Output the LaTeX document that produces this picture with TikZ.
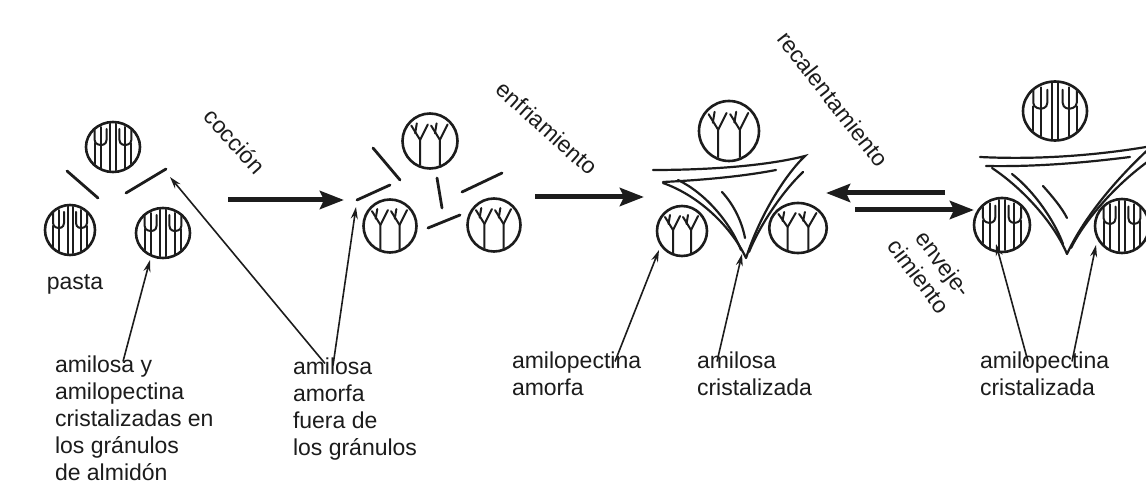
\documentclass[tikz,border=0pt]{standalone}
\usepackage{fontspec}
\setmainfont{Liberation Sans}
\usetikzlibrary{arrows.meta}
\definecolor{ink}{HTML}{1C1C1C}

\tikzset{
  every node/.style={inner sep=0pt, outer sep=0pt, text=ink},
  lbl/.style={font=\fontsize{23}{27}\selectfont, align=left, anchor=north west},
  rlbl/.style={font=\fontsize{23}{27}\selectfont},
  rim/.style={draw=ink, line width=2.6pt},
  fine/.style={draw=ink, line width=2pt, line cap=round},
  film/.style={draw=ink, line width=2.2pt, line cap=round},
  frag/.style={draw=ink, line width=2.8pt, line cap=round},
  lead/.style={draw=ink, line width=1.6pt, -{Stealth[length=12pt,width=7pt]}},
  big/.style={draw=ink, line width=5pt, -{Stealth[length=24pt,width=18pt,inset=4pt]}},
  % granule with crystalline (parallel) chains
  crystgran/.pic={
    \draw[rim] (0,0) circle[radius=25];
    \begin{scope}
      \clip (0,0) circle[radius=24];
      \draw[fine] (-2.5,-30) -- (-2.5,30) (2.5,-30) -- (2.5,30)
                  (-11,-20) -- (-11,30) (11,-20) -- (11,30)
                  (-17,-4) -- (-17,30) (17,-4) -- (17,30);
      \draw[fine] (-17,-18) -- (-17,-7) .. controls (-17,-2) and (-11,-2) .. (-11,-2)
                  .. controls (-11,-2) and (-6,-2) .. (-6,-7) -- (-6,-18);
      \draw[fine] (6,-18) -- (6,-7) .. controls (6,-2) and (11,-2) .. (11,-2)
                  .. controls (11,-2) and (17,-2) .. (17,-7) -- (17,-18);
    \end{scope}
  },
  % granule with branched (amorphous) chains
  treegran/.pic={
    \draw[rim] (0,0) circle[radius=25];
    \begin{scope}
      \clip (0,0) circle[radius=24];
      \foreach \c in {-9,9}{
        \draw[fine] (\c,30) -- (\c,-1) -- (\c-8,-14);
        \draw[fine] (\c,-1) -- (\c+7,-15);
        \draw[fine] (\c-4.5,-7) -- (\c-3,-16);
      }
    \end{scope}
  }
}

\begin{document}
\begin{tikzpicture}[x=1pt,y=-1pt]
\fill[white] (0,0) rectangle (1146,486);
\useasboundingbox (0,0) rectangle (1146,486);

% ---------- raw pasta: intact granules ----------
\pic[xscale=1.08] (g1a) at (113,147) {crystgran};
\pic (g1b) at (70,230) {crystgran};
\pic[xscale=1.08] (g1c) at (163,233) {crystgran};
\draw[frag] (67,171) -- (98,198);
\draw[frag] (126,193) -- (166,169);
\node[rlbl] (pasta) at (75,284) {pasta};

% ---------- cooked: swollen granules, amylose leached ----------
\pic[scale=1.1] (g2a) at (430,141) {treegran};
\pic[scale=1.06] (g2b) at (390,226) {treegran};
\pic[scale=1.06] (g2c) at (494,225) {treegran};
\draw[frag] (373,148) -- (400,180);
\draw[frag] (357,200) -- (390,185);
\draw[frag] (437,178) -- (442,208);
\draw[frag] (428,228) -- (460,215);
\draw[frag] (462,192) -- (502,173);

% ---------- cooled: amylose network crystallised ----------
\pic[scale=1.2] (g3a) at (729,131) {treegran};
\pic (g3b) at (682,231) {treegran};
\pic[xscale=1.15] (g3c) at (798,228) {treegran};
\draw[film] (653,170) .. controls (715,170) and (770,165) .. (805,156)
            .. controls (785,175) and (760,215) .. (746,258);
\draw[film] (663,182) .. controls (705,180) and (745,176) .. (776,170);
\draw[film] (663,183) .. controls (700,196) and (732,228) .. (746,258);
\draw[film] (678,180) .. controls (705,193) and (730,222) .. (741,250);
\draw[film] (722,192) .. controls (734,205) and (742,222) .. (745,238);
\draw[film] (803,172) .. controls (782,192) and (760,225) .. (749,252);

% ---------- aged: amylopectin recrystallised ----------
\pic[xscale=1.28,yscale=1.18] (g4a) at (1055,111) {crystgran};
\pic[xscale=1.12,yscale=1.08] (g4b) at (1002,225) {crystgran};
\pic[xscale=1.08,yscale=1.08] (g4c) at (1122,226) {crystgran};
\draw[film] (980,157) .. controls (1040,160) and (1100,155) .. (1152,146)
            .. controls (1120,175) and (1085,215) .. (1067,254);
\draw[film] (986,166) .. controls (1040,167) and (1090,162) .. (1130,157);
\draw[film] (992,168) .. controls (1025,190) and (1055,225) .. (1067,254);
\draw[film] (1012,174) .. controls (1035,192) and (1055,222) .. (1063,244);
\draw[film] (1043,186) .. controls (1052,196) and (1062,208) .. (1067,218);
\draw[film] (1150,160) .. controls (1115,185) and (1085,220) .. (1071,248);

% ---------- process arrows ----------
\coordinate (a1s) at (228,200); \coordinate (a1e) at (344,200);
\coordinate (a2s) at (535,197); \coordinate (a2e) at (644,197);
\coordinate (a3s) at (945,193); \coordinate (a3e) at (826,193);
\coordinate (a4s) at (855,210); \coordinate (a4e) at (974,210);
\draw[big] (a1s) -- (a1e);
\draw[big] (a2s) -- (a2e);
\draw[big] (a3s) -- (a3e);
\draw[big] (a4s) -- (a4e);

\node[rlbl, rotate=-48] (coc) at (235,141) {cocción};
\node[rlbl, rotate=-42] (enf) at (547,128) {enfriamiento};
\node[rlbl, rotate=-52] (rec) at (833,99) {recalentamiento};
\node[rlbl, rotate=-53, align=right] (env) at (930,268) {enveje-\\cimiento};

% ---------- captions ----------
\node[lbl] (c1) at (55,355.5) {amilosa y\\amilopectina\\cristalizadas en\\los gránulos\\de almidón};
\node[lbl] (c2) at (293,357.5) {amilosa\\amorfa\\fuera de\\los gránulos};
\node[lbl] (c3) at (512,351.5) {amilopectina\\amorfa};
\node[lbl] (c4) at (697,351.5) {amilosa\\cristalizada};
\node[lbl] (c5) at (980,351.5) {amilopectina\\cristalizada};

% ---------- leader arrows ----------
\coordinate (t1) at (150,260);
\coordinate (t2a) at (170,177);
\coordinate (t2b) at (356,207);
\coordinate (t3) at (659,250);
\coordinate (t4) at (742,254);
\coordinate (t5a) at (996,244);
\coordinate (t5b) at (1096,245);
\draw[lead] ([xshift=68pt,yshift=-6pt]c1.north west) -- (t1);
\draw[lead] ([xshift=32pt,yshift=-6pt]c2.north west) -- (t2a);
\draw[lead] ([xshift=40pt,yshift=-8pt]c2.north west) -- (t2b);
\draw[lead] ([xshift=103pt,yshift=-10pt]c3.north west) -- (t3);
\draw[lead] ([xshift=20pt,yshift=-10pt]c4.north west) -- (t4);
\draw[lead] ([xshift=48pt,yshift=-10pt]c5.north west) -- (t5a);
\draw[lead] ([xshift=92pt,yshift=-10pt]c5.north west) -- (t5b);
\end{tikzpicture}
\end{document}
